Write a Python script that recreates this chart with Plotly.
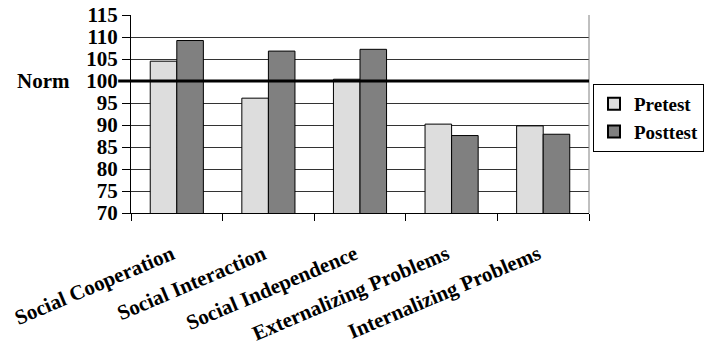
import plotly.graph_objects as go

categories = ["Social Cooperation", "Social Interaction", "Social Independence",
              "Externalizing Problems", "Internalizing Problems"]
pretest = [104.5, 96.1, 100.4, 90.2, 89.8]
posttest = [109.2, 106.8, 107.2, 87.6, 87.9]
y_ticks = list(range(70, 116, 5))
norm_value = 100

FONT = "Liberation Serif"

fig = go.Figure()
fig.add_trace(go.Bar(name="<b>Pretest</b>", x=categories, y=pretest,
                     marker=dict(color="#DDDDDD", line=dict(color="#000000", width=1))))
fig.add_trace(go.Bar(name="<b>Posttest</b>", x=categories, y=posttest,
                     marker=dict(color="#808080", line=dict(color="#000000", width=1))))

fig.update_layout(
    width=704, height=345,
    margin=dict(l=131, r=115, t=15, b=132),
    paper_bgcolor="white", plot_bgcolor="white",
    barmode="group", bargap=0.42, bargroupgap=0,
    font=dict(family=FONT, size=21, color="black"),
    showlegend=True,
    legend=dict(xref="container", yref="container", x=593 / 704, xanchor="left",
                y=1 - 84 / 345, yanchor="top",
                bordercolor="black", borderwidth=1, itemwidth=30,
                font=dict(family=FONT, size=19, color="black"),
                itemsizing="constant", tracegroupgap=0),
)
fig.update_yaxes(range=[70, 115], tickvals=y_ticks, ticktext=[f"<b>{v}</b>" for v in y_ticks],
                 showgrid=True, gridcolor="#333333", gridwidth=1,
                 ticks="outside", ticklen=8, tickcolor="black",
                 showline=True, linecolor="black", linewidth=1, automargin=False,
                 zeroline=False, tickfont=dict(family=FONT, size=21, color="black"))
fig.update_xaxes(tickvals=categories, ticktext=[f"<b>{c}</b>" for c in categories],
                 tickangle=-23, ticks="outside", tickson="boundaries", ticklen=7,
                 tickcolor="black", showline=True, linecolor="black", linewidth=1,
                 showgrid=False, ticklabelstandoff=20, ticklabelshift=-5, automargin=False,
                 tickfont=dict(family=FONT, size=21, color="black"))
# plot area border (right side)
fig.add_shape(type="line", xref="paper", yref="paper", x0=1, x1=1, y0=0, y1=1,
              line=dict(color="#808080", width=1))
fig.add_shape(type="line", xref="paper", yref="y", x0=-0.028, x1=1, y0=norm_value, y1=norm_value,
              line=dict(color="black", width=3), layer="above")
fig.add_annotation(text="<b>Norm</b>", xref="paper", yref="y", x=-0.128, y=norm_value,
                   xanchor="right", yanchor="middle", showarrow=False,
                   font=dict(family=FONT, size=21, color="black"))

fig.write_html("out.html")
